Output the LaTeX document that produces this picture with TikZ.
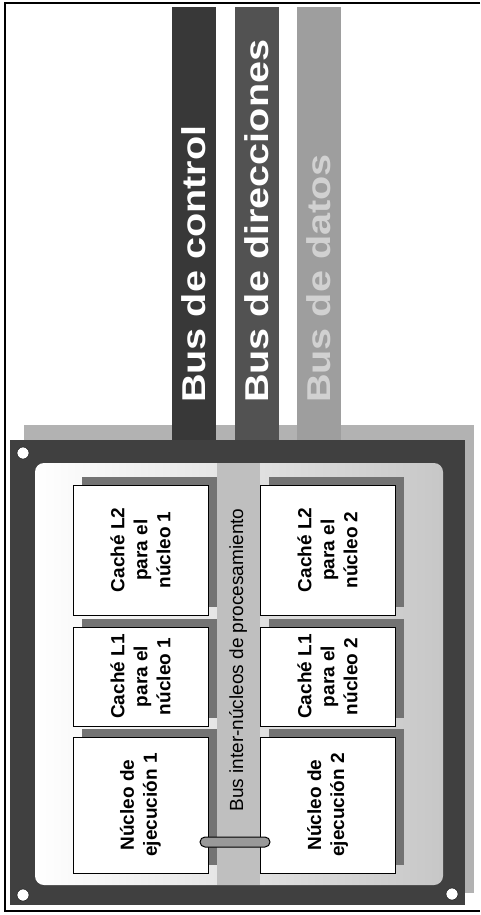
\documentclass[tikz,border=0pt]{standalone}
\usepackage{fontspec}
\setmainfont{Liberation Sans}
\newfontfamily\busfont[FakeStretch=1.2]{Liberation Sans}
\usepackage{tikz}
\usetikzlibrary{positioning, calc, shapes}

\begin{document}
\begin{tikzpicture}[
    x=1pt, y=-1pt,
    cell/.style={rectangle, draw=black, fill=white, rotate=90, align=center, inner sep=0pt, minimum height=135pt, font=\fontsize{19}{23}\selectfont\bfseries},
    l2/.style={cell, minimum width=130pt},
    l1/.style={cell, minimum width=99pt},
    core/.style={cell, minimum width=136pt},
    buslabel/.style={rotate=90, anchor=west, inner sep=0pt, font=\busfont\fontsize{33}{36}\selectfont\bfseries},
    boxshade/.style={fill=black!55},
    hole/.style={circle, draw=black, fill=white, minimum size=12pt, inner sep=0pt},
    pill/.style={rounded rectangle, draw=black, line width=1pt, fill=black!40, minimum width=70pt, minimum height=10pt, inner sep=0pt}
]
\useasboundingbox (0,0) rectangle (480,915);

% page border
\draw[line width=1.5pt] (480,3) -- (5,3) -- (5,911) -- (480,911);

% chip shadow
\fill[black!30] (24,425) rectangle (474,893);

% system buses
\fill[black!78] (172,7) rectangle (216,440);
\fill[black!68] (235,7) rectangle (279,440);
\fill[black!38] (297,7) rectangle (341,440);
\node[buslabel, text=white] (ctrl) at (194,403) {Bus de control};
\node[buslabel, text=white] (dir) at (257,403) {Bus de direcciones};
\node[buslabel, text=white!82!black] (dat) at (319,403) {Bus de datos};

% chip frame and die
\fill[black!75] (10,440) rectangle (465,905);
\shade[left color=white, right color=black!22, rounded corners=9pt] (35,463) rectangle (443,885);
\fill[black!25] (217,463) rectangle (260,885);
\node[rotate=90, font=\fontsize{19}{22}\selectfont] (ibus) at (238,660) {Bus inter-núcleos de procesamiento};

% mounting holes
\node[hole] (h1) at (23,453) {};
\node[hole] (h2) at (23,895) {};
\node[hole] (h3) at (452,894) {};

% box shadows
\fill[boxshade] (82,477) rectangle (217,607);
\fill[boxshade] (82,619) rectangle (217,718);
\fill[boxshade] (82,729) rectangle (217,865);
\fill[boxshade] (269,477) rectangle (404,607);
\fill[boxshade] (269,619) rectangle (404,718);
\fill[boxshade] (269,729) rectangle (404,865);

% core 1
\node[l2] (l2a) at (140.5,550) {Caché L2\\para el\\núcleo 1};
\node[l1] (l1a) at (140.5,676.5) {Caché L1\\para el\\núcleo 1};
\node[core] (c1) at (140.5,805) {Núcleo de\\ejecución 1};

% core 2
\node[l2] (l2b) at (327.5,550) {Caché L2\\para el\\núcleo 2};
\node[l1] (l1b) at (327.5,676.5) {Caché L1\\para el\\núcleo 2};
\node[core] (c2) at (327.5,805) {Núcleo de\\ejecución 2};

% link between the cores
\node[pill] (link) at (235,842) {};

\end{tikzpicture}
\end{document}
